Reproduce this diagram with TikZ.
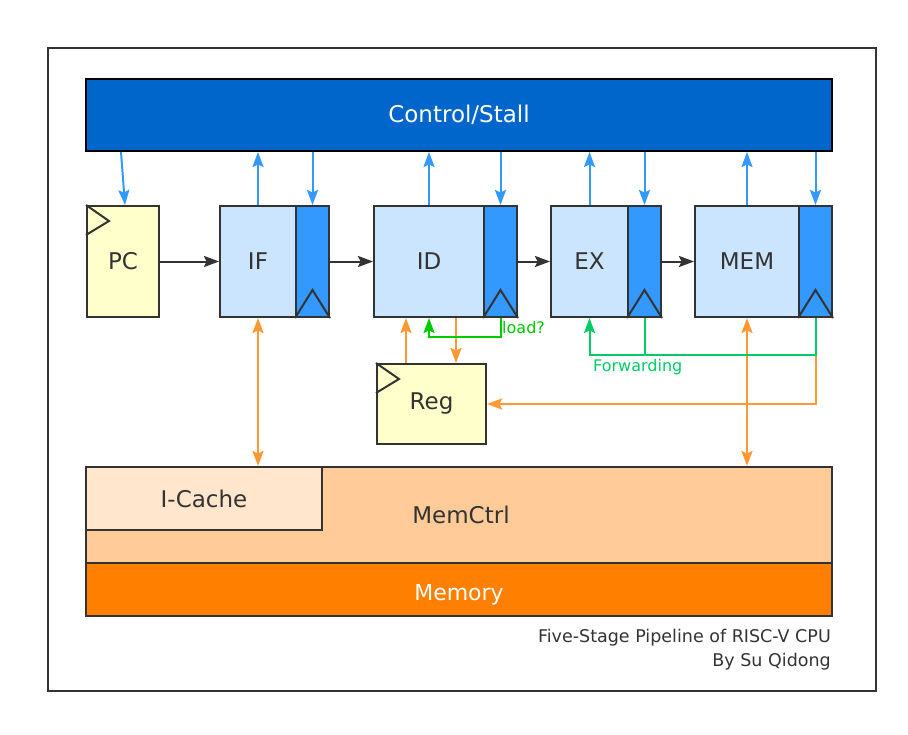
\documentclass[tikz,border=0pt]{standalone}
\usepackage{fontspec}
\setmainfont{DejaVu Sans}
\usetikzlibrary{arrows.meta,calc}
\definecolor{ink}{HTML}{333333}
\definecolor{ctlblue}{HTML}{0066CC}
\definecolor{stagefill}{HTML}{CCE5FF}
\definecolor{regfill}{HTML}{3399FF}
\definecolor{yel}{HTML}{FFFFCC}
\definecolor{mcfill}{HTML}{FFCC99}
\definecolor{icfill}{HTML}{FFE6CC}
\definecolor{memfill}{HTML}{FF8000}
\definecolor{bluearr}{HTML}{3399FF}
\definecolor{orarr}{HTML}{FF9933}
\definecolor{greenld}{HTML}{00CC00}
\definecolor{greenfw}{HTML}{00CC66}
\tikzset{
  tipshape/.tip={Stealth[length=15pt,width=11pt,inset=2.5pt]},
  box/.style={draw=ink, line width=2pt, anchor=north west, inner sep=0pt, text=ink,
    font=\fontsize{23}{27}\selectfont},
  stagebox/.style={box, fill=stagefill, minimum height=111pt},
  regbox/.style={box, fill=regfill, minimum height=111pt},
  yelbox/.style={box, fill=yel},
  conn/.style={line width=2pt},
  blueconn/.style={conn, draw=bluearr, -tipshape},
  blackconn/.style={conn, draw=ink, -tipshape},
  orconn/.style={conn, draw=orarr, -tipshape},
  orboth/.style={conn, draw=orarr, tipshape-tipshape},
  ldconn/.style={conn, draw=greenld},
  fwconn/.style={conn, draw=greenfw},
  small/.style={font=\fontsize{16}{24}\selectfont},
  capfont/.style={font=\fontsize{17.5}{24}\selectfont},
}
\begin{document}
\begin{tikzpicture}[x=1pt,y=-1pt]
\useasboundingbox (0,0) rectangle (908,734);
\draw[ink, line width=2pt] (48,48) rectangle (876,691);

% control
\node[box, draw=black, fill=ctlblue, text=white, minimum width=746pt, minimum height=72pt] (ctrl) at (85,78) {Control/Stall};

% PC
\node[yelbox, minimum width=72pt, minimum height=111pt] (PC) at (86,205) {PC};
\draw[ink, line width=2pt] (PC.north west) -- ($(PC.north west)+(23,16)$) -- ($(PC.north west)+(0,30)$);

% stages
\node[stagebox, minimum width=76pt] (IF) at (219,205) {IF};
\node[regbox, minimum width=33pt] (IFr) at (295,205) {};
\node[stagebox, minimum width=110pt] (ID) at (373,205) {ID};
\node[regbox, minimum width=33pt] (IDr) at (483,205) {};
\node[stagebox, minimum width=77pt] (EX) at (550,205) {EX};
\node[regbox, minimum width=33pt] (EXr) at (627,205) {};
\node[stagebox, minimum width=104pt] (MEM) at (694,205) {MEM};
\node[regbox, minimum width=33pt] (MEMr) at (798,205) {};
\foreach \r in {IFr,IDr,EXr,MEMr}{
  \draw[ink, line width=2pt] (\r.south west) -- ($(\r.south)+(0,-28)$) -- (\r.south east);
}

% Reg
\node[yelbox, minimum width=109pt, minimum height=80pt] (Reg) at (376,363) {Reg};
\draw[ink, line width=2pt] (Reg.north west) -- ($(Reg.north west)+(23,16)$) -- ($(Reg.north west)+(0,30)$);

% memory blocks
\node[box, fill=mcfill, minimum width=746pt, minimum height=96pt] (MC) at (85,466) {\raisebox{-2pt}{\hspace{4pt}MemCtrl}};
\node[box, fill=icfill, minimum width=236pt, minimum height=63pt] (IC) at (85,466) {I-Cache};
\node[box, fill=memfill, text=white, minimum width=746pt, minimum height=53pt, font=\fontsize{22}{26}\selectfont] (MEMORY) at (85,562) {\raisebox{-10.5pt}[0pt][0pt]{Memory}};

% caption
\node[capfont, text=ink, anchor=north east, align=right, inner sep=0pt] (cap) at (831,629) {Five-Stage Pipeline of RISC-V CPU\\By Su Qidong};

% control connectors
\draw[blueconn] ([xshift=-2pt]PC.north |- ctrl.south) -- ([xshift=2pt]PC.north);
\foreach \s in {IF,ID,EX,MEM}{
  \draw[blueconn] (\s.north) -- (\s.north |- ctrl.south);
}
\foreach \r in {IFr,IDr,EXr,MEMr}{
  \draw[blueconn] (\r.north |- ctrl.south) -- (\r.north);
}

% pipeline flow
\draw[blackconn] (PC.east) -- (IF.west);
\draw[blackconn] (IFr.east) -- (ID.west);
\draw[blackconn] (IDr.east) -- (EX.west);
\draw[blackconn] (EXr.east) -- (MEM.west);

% memory links
\draw[orboth] (IF.south) -- (IF.south |- MC.north);
\draw[orboth] (MEM.south) -- (MEM.south |- MC.north);

% register file links
\coordinate (rgA) at ($(Reg.north west)+(30,0)$);
\coordinate (rgB) at ($(Reg.north west)+(80,0)$);
\draw[orconn] (rgA) -- (rgA |- ID.south);
\draw[orconn] (rgB |- ID.south) -- (rgB);
\draw[orconn] (MEMr.south) |- (Reg.east);

% load hazard
\draw[ldconn, -tipshape] (IDr.south) -- ++(0,19) -| (ID.south);
\node[small, text=greenld, anchor=west, inner sep=0pt] (ldlbl) at (502,328) {load?};

% forwarding
\draw[fwconn] (EXr.south) -- ++(0,37);
\draw[fwconn, -tipshape] (MEMr.south) -- ++(0,37) -| (EX.south);
\node[small, text=greenfw, anchor=west, inner sep=0pt] (fwlbl) at (593,367) {Forwarding};
\end{tikzpicture}
\end{document}
